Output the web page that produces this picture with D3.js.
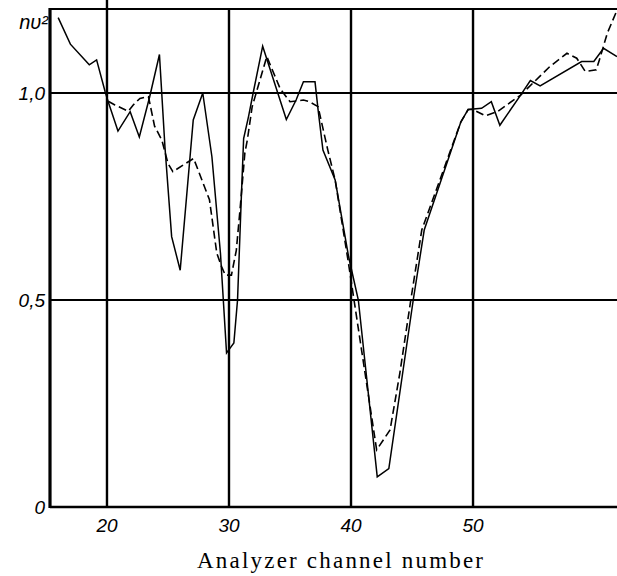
<!DOCTYPE html>
<html>
<head>
<meta charset="utf-8">
<script src="https://cdn.jsdelivr.net/npm/d3@7"></script>
<style>
  html, body { margin: 0; padding: 0; background: #fff; }
  svg { display: block; }
</style>
</head>
<body>
<svg id="chart" width="617" height="576"></svg>
<script>
// ---- data ----
const solidX = [16.0, 17.0, 18.55, 19.15, 19.85, 20.1, 20.9, 21.9, 22.65, 23.5, 24.3, 24.75, 25.3, 26.0, 27.07, 27.85, 28.6, 29.3, 29.8, 30.0, 30.4, 30.7, 31.0, 31.2, 31.6, 32.0, 32.76, 34.7, 35.5, 36.1, 37.05, 37.3, 37.7, 38.7, 39.8, 40.6, 42.15, 43.1, 45.1, 46.0, 49.0, 49.6, 50.7, 51.5, 52.2, 53.9, 54.7, 55.5, 58.9, 59.9, 60.7, 61.8];
const solidY = [1.182, 1.118, 1.068, 1.08, 1.003, 0.979, 0.908, 0.955, 0.894, 0.991, 1.093, 0.87, 0.653, 0.572, 0.935, 1.0, 0.846, 0.613, 0.372, 0.38, 0.396, 0.5, 0.74, 0.89, 0.943, 1.003, 1.113, 0.936, 0.983, 1.027, 1.027, 0.96, 0.862, 0.79, 0.605, 0.5, 0.073, 0.093, 0.5, 0.669, 0.93, 0.96, 0.963, 0.979, 0.922, 0.995, 1.03, 1.017, 1.076, 1.076, 1.108, 1.088];
const dashX = [20.1, 20.65, 21.75, 22.15, 22.7, 23.4, 23.9, 24.5, 25.0, 25.4, 27.1, 28.4, 29.0, 29.4, 29.7, 30.2, 30.6, 30.9, 31.3, 31.5, 31.9, 33.1, 34.2, 35.0, 36.1, 36.6, 37.3, 38.1, 38.7, 39.75, 42.1, 43.2, 44.0, 44.9, 45.8, 49.0, 49.6, 50.0, 51.0, 52.0, 53.9, 56.3, 57.7, 58.5, 59.2, 60.1, 60.4, 61.0, 61.8];
const dashY = [0.98, 0.971, 0.956, 0.971, 0.987, 0.991, 0.92, 0.886, 0.83, 0.81, 0.842, 0.742, 0.613, 0.58, 0.56, 0.56, 0.62, 0.717, 0.855, 0.886, 0.967, 1.088, 1.01, 0.979, 0.983, 0.979, 0.967, 0.862, 0.79, 0.597, 0.138, 0.186, 0.323, 0.5, 0.669, 0.93, 0.96, 0.96, 0.945, 0.955, 0.995, 1.064, 1.096, 1.084, 1.052, 1.056, 1.084, 1.144, 1.2];
const xTicks = [20, 30, 40, 50];
const xTickLabels = ["20", "30", "40", "50"];
const yTicks = [0, 0.5, 1.0];
const yTickLabels = ["0", "0,5", "1,0"];
const yAxisLabel = "nυ²";
const xAxisTitle = "Analyzer channel number";

// ---- layout ----
const mLeft = 50, mRight = 617, mTop = 9, mBottom = 507;
const x = d3.scaleLinear().domain([15.33, 61.8]).range([mLeft, mRight]);
const y = d3.scaleLinear().domain([0, 1.2029]).range([mBottom, mTop]);

const svg = d3.select("#chart");

svg.append("defs").append("clipPath").attr("id", "plotclip")
  .append("rect").attr("x", mLeft).attr("y", mTop).attr("width", mRight - mLeft).attr("height", mBottom - mTop);

// grid lines
const grid = svg.append("g").attr("stroke", "#000");
grid.selectAll("line.v").data(xTicks).join("line")
  .attr("class", "v")
  .attr("x1", d => x(d)).attr("x2", d => x(d))
  .attr("y1", (d, i) => i === 0 ? 0 : mTop).attr("y2", mBottom)
  .attr("stroke-width", 2.4);
grid.selectAll("line.h").data(yTicks.filter(d => d > 0)).join("line")
  .attr("class", "h")
  .attr("x1", mLeft).attr("x2", mRight)
  .attr("y1", d => y(d)).attr("y2", d => y(d))
  .attr("stroke-width", 2.2);

// frame: left, top, bottom (no right border visible)
svg.append("line").attr("x1", mLeft).attr("x2", mLeft).attr("y1", mTop - 1).attr("y2", mBottom + 1)
  .attr("stroke", "#000").attr("stroke-width", 3.2);
svg.append("line").attr("x1", mLeft).attr("x2", mRight).attr("y1", mTop).attr("y2", mTop)
  .attr("stroke", "#000").attr("stroke-width", 2.2);
svg.append("line").attr("x1", mLeft).attr("x2", mRight).attr("y1", mBottom).attr("y2", mBottom)
  .attr("stroke", "#000").attr("stroke-width", 2.4);

// data lines
const line = d3.line().x(d => x(d[0])).y(d => y(d[1]));
const solid = solidX.map((v, i) => [v, solidY[i]]);
const dashed = dashX.map((v, i) => [v, dashY[i]]);

const plot = svg.append("g").attr("clip-path", "url(#plotclip)");
plot.append("path").datum(solid).attr("d", line)
  .attr("fill", "none").attr("stroke", "#000").attr("stroke-width", 1.5)
  .attr("stroke-linejoin", "miter");
plot.append("path").datum(dashed).attr("d", line)
  .attr("fill", "none").attr("stroke", "#000").attr("stroke-width", 1.6)
  .attr("stroke-dasharray", "8,4");

// tick labels
const fontItalic = "'Liberation Sans', Arial, sans-serif";
svg.append("g").selectAll("text").data(xTicks).join("text")
  .attr("x", d => x(d)).attr("y", 532)
  .attr("text-anchor", "middle")
  .attr("font-family", fontItalic).attr("font-style", "italic")
  .attr("font-size", 19).attr("fill", "#000")
  .text((d, i) => xTickLabels[i]);

svg.append("g").selectAll("text").data(yTicks).join("text")
  .attr("x", 45).attr("y", d => y(d) + 7)
  .attr("text-anchor", "end")
  .attr("font-family", fontItalic).attr("font-style", "italic")
  .attr("font-size", 19).attr("fill", "#000")
  .text((d, i) => yTickLabels[i]);

svg.append("text").attr("x", 48).attr("y", 29)
  .attr("text-anchor", "end")
  .attr("font-family", fontItalic).attr("font-style", "italic")
  .attr("font-size", 20).attr("fill", "#000")
  .text(yAxisLabel);

svg.append("text").attr("x", 197).attr("y", 568)
  .attr("font-family", "'Liberation Serif', 'DejaVu Serif', serif")
  .attr("font-size", 23).attr("fill", "#000")
  .attr("textLength", 286).attr("lengthAdjust", "spacing")
  .text(xAxisTitle);
</script>
</body>
</html>
